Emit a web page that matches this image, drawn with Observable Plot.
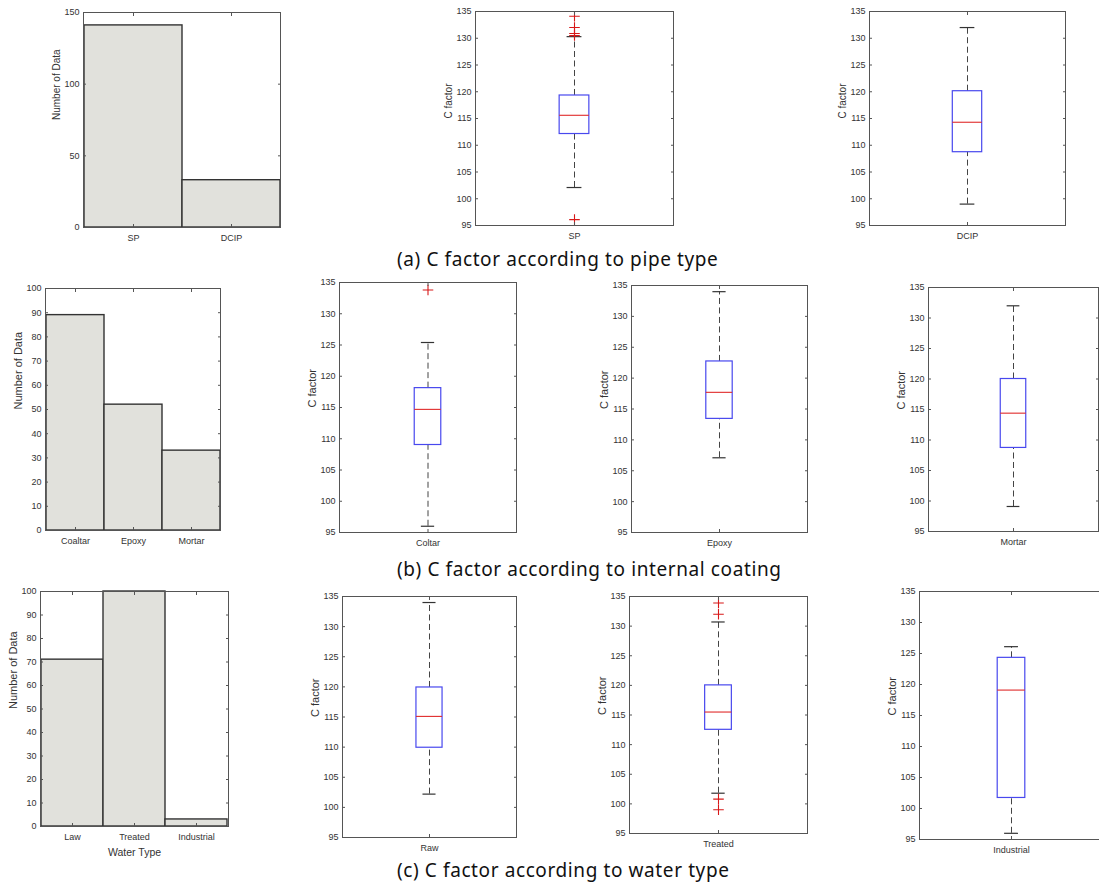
<!DOCTYPE html>
<html><head><meta charset="utf-8">
<script src="https://cdn.jsdelivr.net/npm/d3@7"></script>
<script src="https://cdn.jsdelivr.net/npm/@observablehq/plot@0.6"></script>
<style>
html,body{margin:0;padding:0;background:#fff}
body{width:1099px;height:884px;overflow:hidden;position:relative}
.panel{position:absolute}
.panel svg{max-width:none !important;display:block}
.cap{position:absolute;font-family:"Noto Sans",sans-serif;font-size:19px;line-height:19px;letter-spacing:0.6px;color:#111;white-space:nowrap}
</style></head><body>
<script>
// ---------- data ----------
const pipeTypes = ["SP", "DCIP"];
const pipeCounts = [141, 33];
const coatingTypes = ["Coaltar", "Epoxy", "Mortar"];
const coatingCounts = [89, 52, 33];
const waterTypes = ["Law", "Treated", "Industrial"];
const waterCounts = [71, 100, 3];

const histTicksPipe = [0, 50, 100, 150];
const histTicksHundred = [0, 10, 20, 30, 40, 50, 60, 70, 80, 90, 100];
const boxTicks = [95, 100, 105, 110, 115, 120, 125, 130, 135];

const boxNames  = ["SP", "DCIP", "Coltar", "Epoxy", "Mortar", "Raw", "Treated", "Industrial"];
const boxLow    = [102.1,  99.0,  96.0, 107.1,  99.1, 102.2, 101.8,  96.0];
const boxQ1     = [112.1, 108.7, 109.0, 113.4, 108.7, 109.9, 112.5, 101.7];
const boxMedian = [115.6, 114.3, 114.7, 117.7, 114.4, 115.1, 115.5, 119.1];
const boxQ3     = [119.3, 120.1, 118.1, 122.7, 120.0, 119.9, 120.0, 124.3];
const boxHigh   = [130.3, 132.0, 125.4, 134.0, 132.0, 134.0, 130.7, 126.1];

const outlierGroup = ["SP", "SP", "SP", "SP", "SP", "Coltar", "Treated", "Treated", "Treated", "Treated"];
const outlierValue = [134.1, 132.0, 130.9, 130.5, 96.1, 133.8, 133.9, 132.0, 100.8, 99.0];

const captions = ["(a) C factor according to pipe type",
                  "(b) C factor according to internal coating",
                  "(c) C factor according to water type"];

// ---------- layout ----------
const FONT = '"Liberation Sans", Arial, Helvetica, sans-serif';
const ML = 45, MR = 8, MT = 8, MB = 36;

function place(svg, x0, y0) {
  const div = document.createElement("div");
  div.className = "panel";
  div.style.left = (x0 - ML) + "px";
  div.style.top = (y0 - MT) + "px";
  div.style.width = svg.getAttribute("width") + "px";
  div.appendChild(svg);
  document.body.appendChild(div);
}

function histPanel(cats, counts, yMax, yTicks, frame, tickFont, labelFont, xLabel) {
  const [x0, y0, x1, y1] = frame;
  const rows = cats.map((c, i) => ({cat: c, n: counts[i]}));
  const svg = Plot.plot({
    width: x1 - x0 + ML + MR, height: y1 - y0 + MT + MB,
    marginLeft: ML, marginRight: MR, marginTop: MT, marginBottom: MB,
    style: {fontFamily: FONT, fontSize: tickFont + "px", color: "#333", background: "transparent", overflow: "visible"},
    x: {type: "band", domain: cats, padding: 0},
    y: {domain: [0, yMax]},
    marks: [
      Plot.barY(rows, {x: "cat", y: "n", fill: "#e1e1dc", stroke: "#333", strokeWidth: 1.4}),
      Plot.frame({stroke: "#555"}),
      Plot.axisY({ticks: yTicks, tickSize: -3, tickPadding: 7, label: null, stroke: "#555"}),
      Plot.axisY({anchor: "right", ticks: yTicks, tickSize: -3, tickFormat: () => "", label: null, stroke: "#555"}),
      Plot.axisX({tickSize: -3, tickPadding: 10, label: null, stroke: "#555"}),
      Plot.axisX({anchor: "top", tickSize: -3, tickFormat: () => "", label: null, stroke: "#555"}),
      Plot.text(["Number of Data"], {text: d => d, frameAnchor: "left", rotate: -90, dx: -31, lineAnchor: "top", fontSize: labelFont, fill: "#333"}),
      xLabel ? Plot.text([xLabel], {text: d => d, frameAnchor: "bottom", dy: 22, lineAnchor: "top", fontSize: 10.5, fill: "#333"}) : null
    ]
  });
  place(svg, x0, y0);
}

function boxPanel(i, frame, tickFont, labelFont) {
  const [x0, y0, x1, y1] = frame;
  const name = boxNames[i];
  const row = [{name, low: boxLow[i], q1: boxQ1[i], med: boxMedian[i], q3: boxQ3[i], high: boxHigh[i]}];
  const outs = outlierGroup.map((g, j) => ({g, v: outlierValue[j]})).filter(d => d.g === name);
  const fw = x1 - x0;
  const boxIn = fw * 0.425, capIn = fw * 0.4625;
  const svg = Plot.plot({
    width: fw + ML + MR, height: y1 - y0 + MT + MB,
    marginLeft: ML, marginRight: MR, marginTop: MT, marginBottom: MB,
    style: {fontFamily: FONT, fontSize: tickFont + "px", color: "#333", background: "transparent", overflow: "visible"},
    x: {type: "band", domain: [name], padding: 0},
    y: {domain: [95, 135]},
    marks: [
      Plot.ruleX(row, {x: "name", y1: "q3", y2: "high", stroke: "#444", strokeDasharray: "6,3.5"}),
      Plot.ruleX(row, {x: "name", y1: "low", y2: "q1", stroke: "#444", strokeDasharray: "6,3.5"}),
      Plot.tickY(row, {x: "name", y: "high", insetLeft: capIn, insetRight: capIn, stroke: "#333", strokeWidth: 1.2}),
      Plot.tickY(row, {x: "name", y: "low", insetLeft: capIn, insetRight: capIn, stroke: "#333", strokeWidth: 1.2}),
      Plot.barY(row, {x: "name", y1: "q1", y2: "q3", fill: "none", stroke: "#4848ee", strokeWidth: 1.2, insetLeft: boxIn, insetRight: boxIn}),
      Plot.tickY(row, {x: "name", y: "med", stroke: "#e02a2a", strokeWidth: 1.1, insetLeft: boxIn, insetRight: boxIn}),
      Plot.dot(outs, {x: "g", y: "v", symbol: "plus", stroke: "#d81818", r: 3.5, strokeWidth: 1.1}),
      Plot.frame({stroke: "#555"}),
      Plot.axisY({ticks: boxTicks, tickSize: -3, tickPadding: 7, label: null, stroke: "#555"}),
      Plot.axisY({anchor: "right", ticks: boxTicks, tickSize: -3, tickFormat: () => "", label: null, stroke: "#555"}),
      Plot.axisX({tickSize: -3, tickPadding: 10, label: null, stroke: "#555"}),
      Plot.axisX({anchor: "top", tickSize: -3, tickFormat: () => "", label: null, stroke: "#555"}),
      Plot.text(["C factor"], {text: d => d, frameAnchor: "left", rotate: -90, dx: -31, lineAnchor: "top", fontSize: labelFont, fill: "#333"})
    ]
  });
  place(svg, x0, y0);
}

// row (a)
histPanel(pipeTypes, pipeCounts, 150, histTicksPipe, [83, 12, 280, 227], 9, 10, null);
boxPanel(0, [475, 11, 673, 225], 9, 10);
boxPanel(1, [869, 11, 1065, 225], 9, 10);
// row (b)
histPanel(coatingTypes, coatingCounts, 100, histTicksHundred, [45, 288, 220, 530], 9, 11, null);
boxPanel(2, [339, 282, 516, 532], 9, 11);
boxPanel(3, [631, 285, 807, 532], 9, 11);
boxPanel(4, [928, 287, 1098, 531], 9, 11);
// row (c)
histPanel(waterTypes, waterCounts, 100, histTicksHundred, [40, 591, 228, 826], 9, 11, "Water Type");
boxPanel(5, [342, 596, 516, 837], 9, 11);
boxPanel(6, [629, 596, 807, 833], 9, 11);
boxPanel(7, [919, 591, 1103, 839], 9, 11);

// captions
const capTops = [250, 560, 861];
captions.forEach((t, i) => {
  const d = document.createElement("div");
  d.className = "cap";
  d.style.left = "397px";
  d.style.top = capTops[i] + "px";
  d.textContent = t;
  document.body.appendChild(d);
});
</script>
</body></html>
